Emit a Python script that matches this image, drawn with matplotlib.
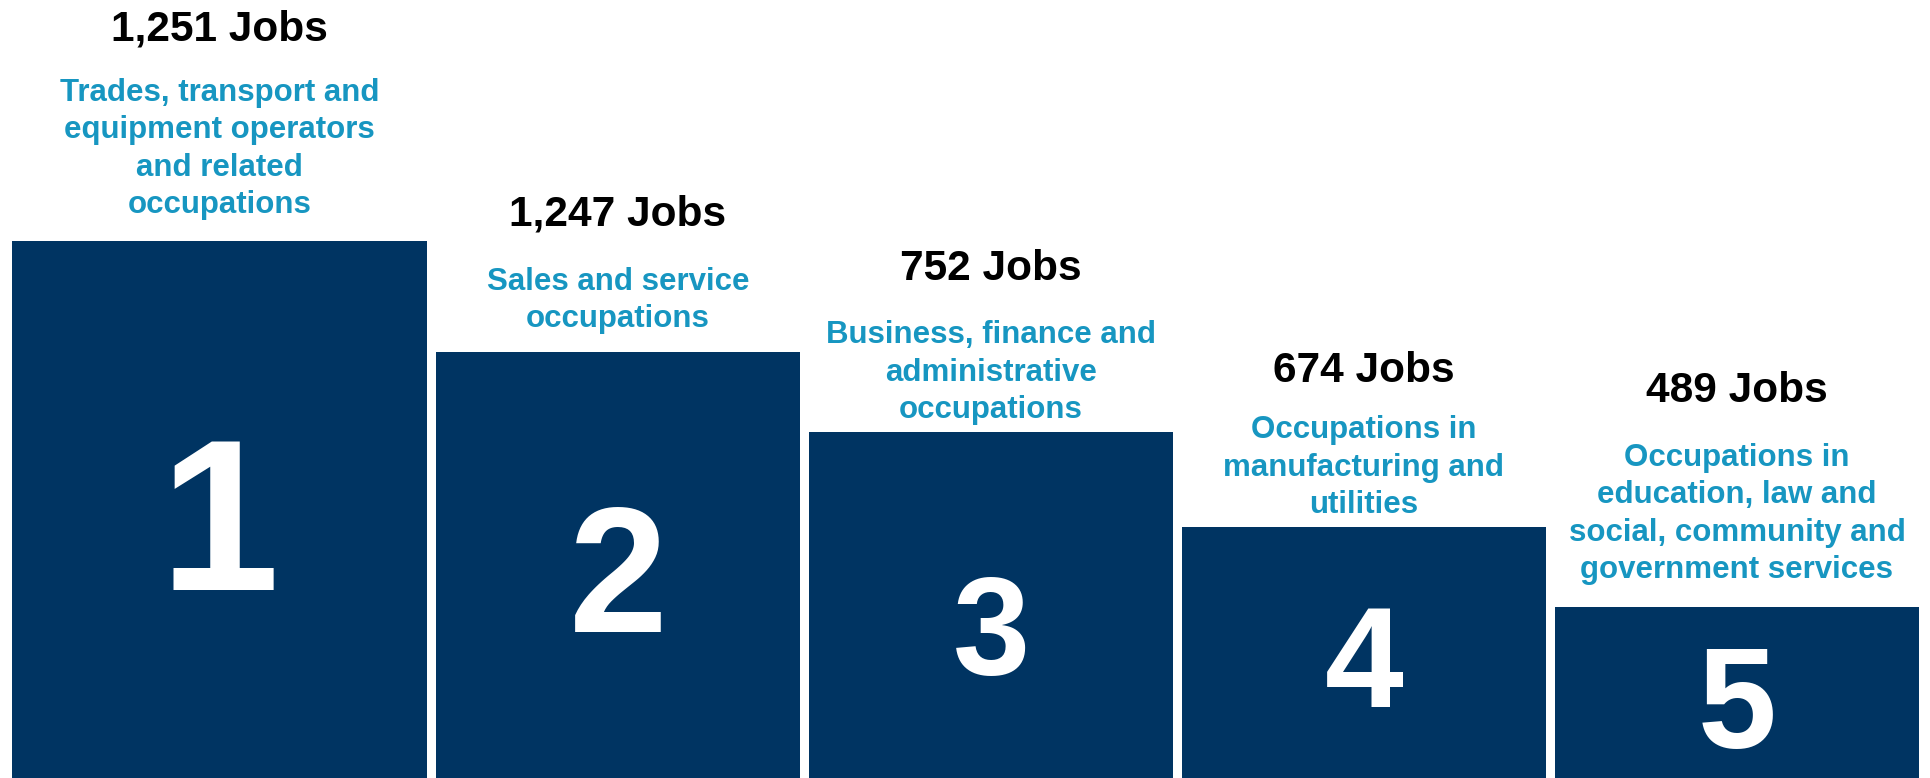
import numpy as np
from matplotlib import pyplot as plt

# data
ranks = ['1', '2', '3', '4', '5']
jobs = [1251, 1247, 752, 674, 489]
occupations = [
    'Trades, transport and\nequipment operators\nand related\noccupations',
    'Sales and service\noccupations',
    'Business, finance and\nadministrative\noccupations',
    'Occupations in\nmanufacturing and\nutilities',
    'Occupations in\neducation, law and\nsocial, community and\ngovernment services',
]
# podium step heights (not proportional to jobs), in pixels
step_heights = [537, 426, 346, 251, 171]

# layout (pixels, measured from the bottom)
widths = [415, 364, 364, 364, 364]
gap = 9
start = 12
jobs_baseline = [738, 553, 498, 396, 376]
occ_last_baseline = [565, 451, 360, 265, 200]
rank_baseline = [188, 146, 104, 71, 30]
rank_size = [155, 128, 100, 102, 102]

navy = '#003462'
blue = '#1796c1'

plt.rcParams['font.family'] = ['Liberation Sans', 'DejaVu Sans']

fig = plt.figure(figsize=(19.31, 7.78), dpi=100)
ax = fig.add_axes([0, 0, 1, 1])
ax.set_xlim(0, 1931)
ax.set_ylim(0, 778)
ax.axis('off')

lefts = start + np.concatenate([[0], np.cumsum(np.array(widths[:-1]) + gap)])
ax.bar(lefts, step_heights, width=widths, align='edge', color=navy, linewidth=0)

for i in range(len(ranks)):
    cx = lefts[i] + widths[i] / 2
    ax.text(cx, rank_baseline[i], ranks[i], ha='center', va='baseline',
            color='white', fontsize=rank_size[i], fontweight='bold')
    ax.text(cx, jobs_baseline[i], f'{jobs[i]:,} Jobs', ha='center', va='baseline',
            color='black', fontsize=30.5, fontweight='bold')
    # multi-line text: baseline is that of the last line
    ax.text(cx, occ_last_baseline[i], occupations[i], ha='center', va='baseline',
            color=blue, fontsize=22.5, fontweight='bold', linespacing=1.32,
            multialignment='center')

fig.savefig('out.png', dpi=100)
